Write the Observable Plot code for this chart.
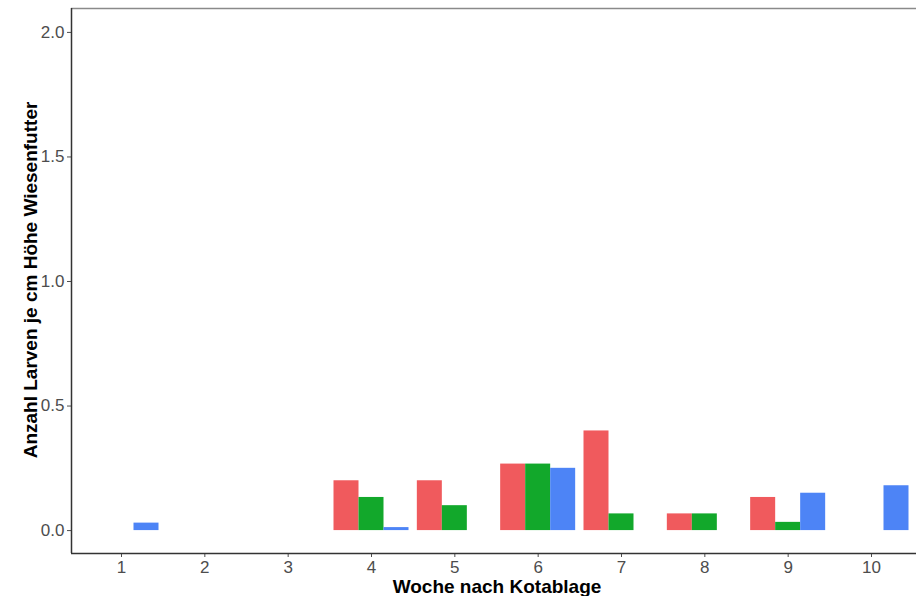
<!DOCTYPE html>
<html>
<head>
<meta charset="utf-8">
<script src="https://cdn.jsdelivr.net/npm/d3@7"></script>
<script src="https://cdn.jsdelivr.net/npm/@observablehq/plot@0.6"></script>
<style>
  body { margin: 0; background: #fff; }
  #chart svg { display: block; }
</style>
</head>
<body>
<div id="chart"></div>
<script>
// Larvae per cm of meadow fodder height, by week after dung deposition
const weeks = [1, 2, 3, 4, 5, 6, 7, 8, 9, 10];
const seriesNames = ["Serie 1", "Serie 2", "Serie 3"];
const serie1 = [0, 0, 0, 0.2, 0.2, 0.267, 0.4, 0.067, 0.133, 0];
const serie2 = [0, 0, 0, 0.133, 0.1, 0.267, 0.067, 0.067, 0.033, 0];
const serie3 = [0.03, 0, 0, 0.012, 0, 0.25, 0, 0, 0.15, 0.18];
const seriesColors = ["#f05a5d", "#12a82b", "#4d84f6"];
const yTicks = [0, 0.5, 1.0, 1.5, 2.0];
const xTitle = "Woche nach Kotablage";
const yTitle = "Anzahl Larven je cm Höhe Wiesenfutter";

const seriesValues = [serie1, serie2, serie3];
const rows = [];
seriesNames.forEach((name, k) =>
  weeks.forEach((w, i) => rows.push({week: w, series: name, k, value: seriesValues[k][i]}))
);

// dodged bars: the three series share 0.9 of each week's slot
const groupWidth = 0.9;
const barWidth = groupWidth / seriesNames.length;
const xDomain = [0.4, 10.6];
const yDomain = [-0.092, 2.096];

const font = '"Liberation Sans", Arial, Helvetica, sans-serif';

const chart = Plot.plot({
  width: 916,
  height: 596,
  marginLeft: 71,
  marginRight: 0,
  marginTop: 8,
  marginBottom: 43,
  style: {fontFamily: font, fontSize: "17px", color: "#4d4d4d", background: "#fff"},
  x: {
    type: "linear",
    domain: xDomain,
    range: [71, 921],
    ticks: weeks,
    tickFormat: d => String(d),
    tickSize: 4,
    tickPadding: 3,
    label: null
  },
  y: {
    domain: yDomain,
    ticks: yTicks,
    tickFormat: d3.format(".1f"),
    tickSize: 4,
    tickPadding: 3,
    label: null
  },
  color: {domain: seriesNames, range: seriesColors},
  marks: [
    Plot.rectY(rows, {
      x1: d => d.week - groupWidth / 2 + d.k * barWidth,
      x2: d => d.week - groupWidth / 2 + (d.k + 1) * barWidth,
      y1: 0,
      y2: "value",
      fill: "series"
    }),
    Plot.ruleY([yDomain[1]], {stroke: "#8a8a8a", strokeWidth: 1.5}),
    Plot.ruleX([xDomain[0]], {stroke: "#333", strokeWidth: 1.5}),
    Plot.ruleY([yDomain[0]], {stroke: "#333", strokeWidth: 1.5}),
    Plot.text([xTitle], {
      frameAnchor: "bottom", textAnchor: "middle", lineAnchor: "middle",
      dx: 3, dy: 33,
      fontWeight: "bold", fontSize: 19, fill: "#000"
    }),
    Plot.text([yTitle], {
      frameAnchor: "left", textAnchor: "middle", lineAnchor: "middle",
      dx: -41, dy: -1, rotate: -90,
      fontWeight: "bold", fontSize: 19, fill: "#000"
    })
  ]
});

document.getElementById("chart").appendChild(chart);
</script>
</body>
</html>
